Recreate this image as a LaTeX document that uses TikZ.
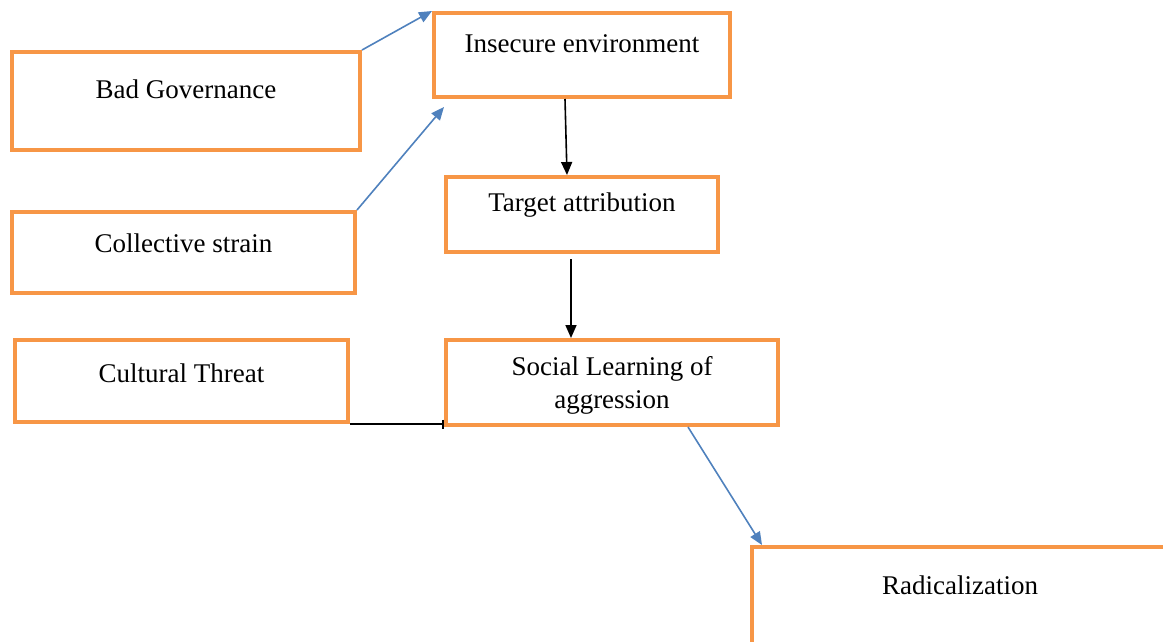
\documentclass[tikz,border=0pt]{standalone}
\usepackage{fontspec}
\setmainfont{Liberation Serif}
\usetikzlibrary{arrows.meta}
\definecolor{boxorange}{HTML}{F79646}
\definecolor{arrowblue}{HTML}{4F81BD}
\begin{document}
\begin{tikzpicture}[x=1pt,y=-1pt]
    \tikzstyle{every node}=[font=\fontsize{27pt}{33pt}\selectfont]
    \tikzstyle{box}=[rectangle,draw=boxorange,line width=4pt,inner sep=0pt]
    \tikzstyle{bluearrow}=[draw=arrowblue,line width=1.6pt,-{Triangle[length=13pt,width=11pt]},arrowblue]
    \tikzstyle{blackarrow}=[draw=black,line width=1.6pt,-{Triangle[length=13pt,width=11pt]}]
    \clip (0,0) rectangle (1163,641);
    \node[box,minimum width=348,minimum height=98,label={[yshift=12pt]center:Bad Governance}] (gov) at (186,101) {};
    \node[box,minimum width=343,minimum height=81,label={[yshift=9.5pt]center:Collective strain}] (strain) at (183.5,252.5) {};
    \node[box,minimum width=333,minimum height=82,label={[yshift=8pt]center:Cultural Threat}] (threat) at (181.5,381) {};
    \node[box,minimum width=296,minimum height=84,label={[yshift=11pt]center:Insecure environment}] (insecure) at (582,55) {};
    \node[box,minimum width=272,minimum height=75,label={[yshift=9.5pt]center:Target attribution}] (target) at (582,214.5) {};
    \node[box,minimum width=332,minimum height=85,align=center,text depth=0pt] (social) at (612,382.5) {Social Learning of\\aggression};
    \node[box,minimum width=448,minimum height=173,label={[xshift=-16pt,yshift=48.5pt]center:Radicalization}] (radical) at (976,633.5) {};
    \coordinate (strainend) at (444,107);
    \draw[bluearrow] (gov.north east) -- (insecure.north west);
    \draw[bluearrow] (strain.north east) -- (strainend);
    \draw[blackarrow] ([xshift=-17pt]insecure.south) -- ([xshift=-15pt]target.north);
    \draw[blackarrow] ([xshift=-11pt,yshift=-5pt]target.south) -- ([xshift=-41pt]social.north);
    \draw[line width=1.6pt,-{Bar[width=9pt]}] (threat.south east) -- (threat.south east -| social.west);
    \draw[bluearrow] ([xshift=76pt]social.south) -- ([xshift=12pt]radical.north west);
\end{tikzpicture}
\end{document}
